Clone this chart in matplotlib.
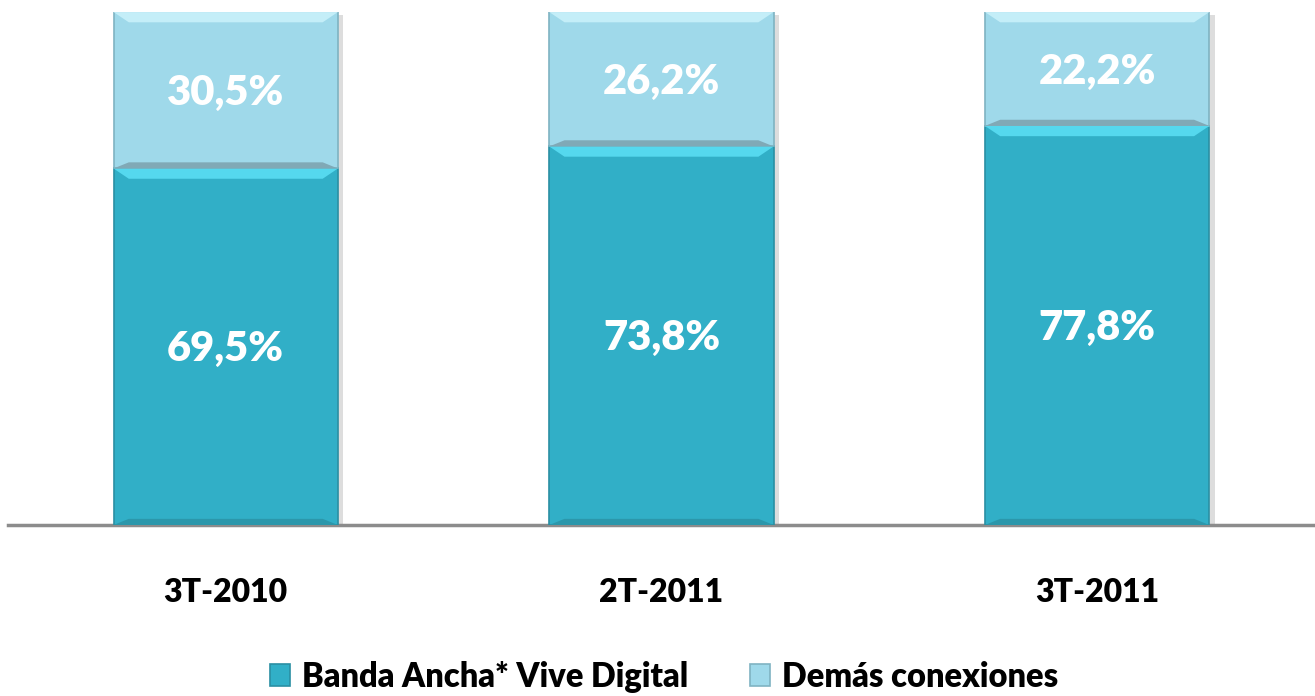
import matplotlib
matplotlib.use("Agg")
import matplotlib.pyplot as plt
from matplotlib.patches import Polygon
import numpy as np

categories = ["3T-2010", "2T-2011", "3T-2011"]
banda_ancha = [69.5, 73.8, 77.8]
demas = [30.5, 26.2, 22.2]
series_names = ["Banda Ancha* Vive Digital", "Demás conexiones"]

plt.rcParams['font.family'] = ['Lato', 'DejaVu Sans']

dark = "#31AFC7"
light = "#9FD9EA"

fig = plt.figure(figsize=(13.15, 6.96), dpi=100)
ax = fig.add_axes([0.006, 0.2457, 0.994, 0.737])
x = np.arange(len(categories))
w = 0.515
b1 = ax.bar(x, np.array(banda_ancha) / 100, w, color=dark, edgecolor="#2A8FA3", linewidth=1.2,
            label=series_names[0], zorder=3)
b2 = ax.bar(x, np.array(demas) / 100, w, bottom=np.array(banda_ancha) / 100, color=light,
            edgecolor="#7FB3C2", linewidth=1.2, label=series_names[1], zorder=3)

# bevel decorations derived from bar patches
bev_y = 0.02
bev_x = 0.035
for bars, top_col, bot_col in [(b1, "#55D8EE", "#2B97AB"), (b2, "#C4EEF8", "#80A9B6")]:
    for p in bars:
        x0, y0 = p.get_x(), p.get_y()
        x1, y1 = x0 + p.get_width(), y0 + p.get_height()
        ax.add_patch(Polygon([[x0, y1], [x1, y1], [x1 - bev_x, y1 - bev_y], [x0 + bev_x, y1 - bev_y]],
                             closed=True, color=top_col, zorder=4, lw=0))
        ax.add_patch(Polygon([[x0, y0], [x1, y0], [x1 - bev_x, y0 + bev_y * 0.6], [x0 + bev_x, y0 + bev_y * 0.6]],
                             closed=True, color=bot_col, zorder=4, lw=0))
        # shadow on right
        ax.add_patch(Polygon([[x1, y0 - 0.008], [x1 + 0.012, y0 - 0.008], [x1 + 0.012, y1 - 0.005], [x1, y1 - 0.005]],
                             closed=True, color="#DDDDDD", zorder=2, lw=0))

for i in range(len(categories)):
    ax.text(x[i], banda_ancha[i] / 200 - 0.005, f"{banda_ancha[i]:.1f}%".replace(".", ","),
            ha="center", va="center", color="white", fontsize=30, fontweight="heavy", zorder=5)
    ax.text(x[i], banda_ancha[i] / 100 + demas[i] / 200 - 0.005, f"{demas[i]:.1f}%".replace(".", ","),
            ha="center", va="center", color="white", fontsize=30, fontweight="heavy", zorder=5)

ax.set_xlim(-0.5, 2.5)
ax.set_ylim(0, 1)
for s in ["top", "right", "left"]:
    ax.spines[s].set_visible(False)
ax.spines["bottom"].set_color("#8C8C8C")
ax.spines["bottom"].set_linewidth(2.5)
ax.set_yticks([])
ax.set_xticks(x)
ax.set_xticklabels(categories, fontsize=23, fontweight="heavy")
ax.tick_params(axis="x", length=0, pad=38)

leg = fig.legend(handles=[b1, b2], labels=series_names, loc="center", bbox_to_anchor=(0.505, 0.028),
                 ncol=2, frameon=False, prop={"weight": "heavy", "size": 23.5},
                 handlelength=0.62, handleheight=0.62, handletextpad=0.35, columnspacing=1.9)

fig.savefig("out.png", dpi=100)
